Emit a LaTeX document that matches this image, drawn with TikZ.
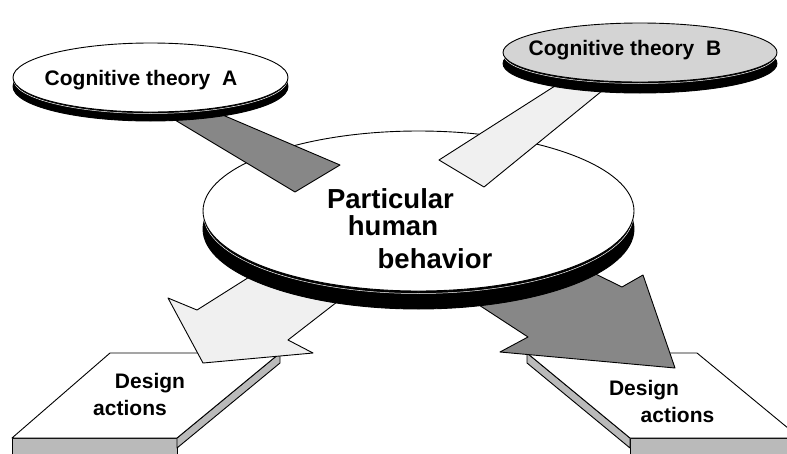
\documentclass[tikz,border=0pt]{standalone}
\usepackage{fontspec}
\setmainfont{Liberation Sans}
\usepackage{tikz}
\usetikzlibrary{positioning}

\begin{document}
\begin{tikzpicture}[x=1pt, y=-1pt, line width=0.9pt, line join=round]
    % Define styles
    \tikzstyle{theory} = [font=\fontsize{21}{25}\selectfont\bfseries, anchor=base, inner sep=0]
    \tikzstyle{behavior} = [font=\fontsize{27.5}{33}\selectfont\bfseries, anchor=base, inner sep=0]
    \tikzstyle{action} = [font=\fontsize{21}{25}\selectfont\bfseries, anchor=base, inner sep=0]
    \tikzstyle{rim} = [draw, fill=black]
    \tikzstyle{rim_gap} = [draw=white, line width=0.5pt]
    \tikzstyle{bar_dark} = [draw, fill=black!47]
    \tikzstyle{bar_light} = [draw, fill=black!6]
    \tikzstyle{slab_top} = [draw, fill=white]
    \tikzstyle{slab_side} = [draw, fill=black!27]

    \useasboundingbox (0,0) rectangle (787,453);
    \clip (0,0) rectangle (787,453);

    % Design action slabs
    \draw [slab_side] (12,438) rectangle (177,462);
    \draw [slab_side] (177,438) -- (280,353) -- (280,363) -- (177,448) -- cycle;
    \draw [slab_top] (110,353) -- (280,353) -- (177,438) -- (12,438) -- cycle;
    \draw [slab_side] (630,438) rectangle (800,462);
    \draw [slab_side] (527,353) -- (630,438) -- (630,448) -- (527,363) -- cycle;
    \draw [slab_top] (527,353) -- (697,353) -- (800,438) -- (630,438) -- cycle;

    % Arrows out of the behavior disc
    \draw [bar_light] (273,262) -- (197,310) -- (168,298) -- (203,363) -- (313,353) -- (288,340) -- (355,288) -- cycle;
    \draw [bar_dark] (459,292) -- (528,337) -- (500,352) -- (675,368) -- (643,275) -- (622,287) -- (567,260) -- cycle;

    % Behavior disc
    \draw [rim] (418.5,229) ellipse [x radius=215.5, y radius=80];
    \draw [rim_gap] (418.5,214) ellipse [x radius=215, y radius=79.5];
    \draw [fill=white] (418.5,211) ellipse [x radius=215.5, y radius=80];

    % Bars from the theories
    \draw [bar_dark] (165,114) -- (295,192) -- (340,165) -- (218,113) -- cycle;
    \draw [bar_light] (569,77) -- (439,160) -- (484,187) -- (608,86) -- cycle;

    % Theory discs
    \draw [rim] (150.5,86.5) ellipse [x radius=137.5, y radius=34.5];
    \draw [rim_gap] (150.5,79.5) ellipse [x radius=137, y radius=34];
    \draw [fill=white] (150.5,77.5) ellipse [x radius=137.5, y radius=34.5];
    \draw [rim] (640,63.5) ellipse [x radius=137, y radius=29.5];
    \draw [rim_gap] (640,54.5) ellipse [x radius=136.5, y radius=29];
    \draw [fill=black!17] (640,52.5) ellipse [x radius=137, y radius=29.5];

    % Labels
    \node [theory] (theory_a) at (141,85) {Cognitive theory\ \ A};
    \node [theory] (theory_b) at (625,55) {Cognitive theory\ \ B};
    \node [behavior] (particular) at (390.5,208) {Particular};
    \node [behavior] (human) at (393,235) {human};
    \node [behavior] (behav) at (435,268) {behavior};
    \node [action] (design_left) at (150,388) {Design};
    \node [action] (actions_left) at (130,415) {actions};
    \node [action] (design_right) at (644,395) {Design};
    \node [action] (actions_right) at (677.5,422) {actions};
\end{tikzpicture}
\end{document}
